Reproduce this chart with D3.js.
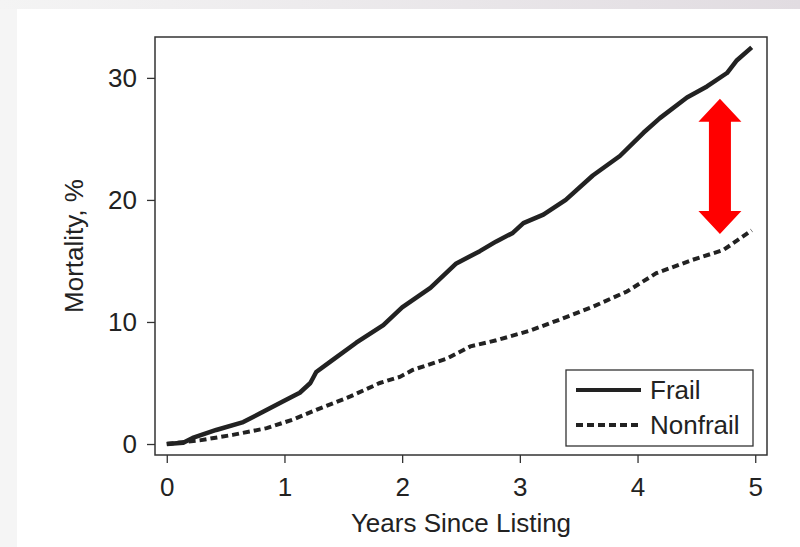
<!DOCTYPE html>
<html>
<head>
<meta charset="utf-8">
<script src="https://cdn.jsdelivr.net/npm/d3@7"></script>
<style>
  html, body { margin: 0; padding: 0; background: #fff; }
  svg { display: block; font-family: 'Liberation Sans', Arial, sans-serif; }
</style>
</head>
<body>
<div id="chart"></div>
<script>
const WIDTH = 800;
const HEIGHT = 547;

// plot box
const box = { left: 155, right: 767, top: 37, bottom: 455 };

// data
const frailYears = [0, 0.14, 0.22, 0.42, 0.65, 0.79, 0.99, 1.13, 1.22, 1.27, 1.39, 1.61, 1.84, 2.0, 2.24, 2.46, 2.66, 2.8, 2.94, 3.03, 3.2, 3.39, 3.62, 3.85, 4.05, 4.19, 4.42, 4.59, 4.76, 4.84, 4.97];
const frailMortality = [0, 0.1, 0.5, 1.15, 1.8, 2.5, 3.5, 4.2, 5.0, 5.9, 6.75, 8.3, 9.75, 11.2, 12.8, 14.8, 15.8, 16.6, 17.3, 18.1, 18.8, 20.0, 22.0, 23.6, 25.5, 26.7, 28.4, 29.3, 30.4, 31.4, 32.5];
const nonfrailYears = [0, 0.28, 0.56, 0.85, 1.07, 1.27, 1.56, 1.81, 1.98, 2.09, 2.38, 2.58, 2.8, 3.09, 3.34, 3.62, 3.91, 4.16, 4.47, 4.73, 4.97];
const nonfrailMortality = [0, 0.3, 0.75, 1.3, 2.0, 2.8, 3.9, 5.0, 5.5, 6.07, 7.0, 8.0, 8.5, 9.3, 10.2, 11.25, 12.5, 14.0, 15.1, 15.9, 17.5];
const xTicks = [0, 1, 2, 3, 4, 5];
const yTicks = [0, 10, 20, 30];
const seriesNames = ['Frail', 'Nonfrail'];
// red double arrow marking the gap
const arrowYear = 4.7;
const arrowFrom = 28.3;
const arrowTo = 17.2;

const svg = d3.select('#chart')
  .append('svg')
  .attr('width', WIDTH)
  .attr('height', HEIGHT);

// page frame (light grey edges)
const defs = svg.append('defs');
defs.append('linearGradient')
  .attr('id', 'top-band')
  .attr('x1', 0).attr('x2', 1).attr('y1', 0).attr('y2', 0)
  .selectAll('stop')
  .data([
    { offset: '0%', color: '#f4f4f4' },
    { offset: '100%', color: '#e1dce1' },
  ])
  .enter()
  .append('stop')
  .attr('offset', (d) => d.offset)
  .attr('stop-color', (d) => d.color);

svg.append('rect').attr('x', 0).attr('y', 0).attr('width', WIDTH).attr('height', 9).attr('fill', 'url(#top-band)');
svg.append('rect').attr('x', 0).attr('y', 9).attr('width', 17).attr('height', HEIGHT - 9).attr('fill', '#f5f5f5');

const x = d3.scaleLinear().domain([-0.1, 5.1]).range([box.left, box.right]);
const y = d3.scaleLinear().domain([-0.9, 33.35]).range([box.bottom, box.top]);

// axes
const xAxis = svg.append('g')
  .attr('transform', `translate(0, ${box.bottom})`)
  .call(d3.axisBottom(x).tickValues(xTicks).tickSize(8).tickPadding(8).tickFormat(d3.format('d')));
const yAxis = svg.append('g')
  .attr('transform', `translate(${box.left}, 0)`)
  .call(d3.axisLeft(y).tickValues(yTicks).tickSize(8).tickPadding(10).tickFormat(d3.format('d')));

[xAxis, yAxis].forEach((g) => {
  g.select('.domain').remove();
  g.selectAll('.tick line').attr('stroke', '#333').attr('stroke-width', 1.3);
  g.selectAll('.tick text').attr('fill', '#222').style('font-size', '26px');
});
xAxis.selectAll('.tick text').attr('dy', '0.95em');

// box
svg.append('rect')
  .attr('x', box.left)
  .attr('y', box.top)
  .attr('width', box.right - box.left)
  .attr('height', box.bottom - box.top)
  .attr('fill', 'none')
  .attr('stroke', '#333')
  .attr('stroke-width', 1.5);

// axis titles
svg.append('text')
  .attr('x', (box.left + box.right) / 2)
  .attr('y', 532)
  .attr('text-anchor', 'middle')
  .attr('fill', '#222')
  .style('font-size', '26px')
  .text('Years Since Listing');

svg.append('text')
  .attr('transform', `translate(83, ${(box.top + box.bottom) / 2}) rotate(-90)`)
  .attr('text-anchor', 'middle')
  .attr('fill', '#222')
  .style('font-size', '26px')
  .text('Mortality, %');

// lines
const line = d3.line().x((d) => x(d[0])).y((d) => y(d[1]));
const frail = frailYears.map((v, i) => [v, frailMortality[i]]);
const nonfrail = nonfrailYears.map((v, i) => [v, nonfrailMortality[i]]);

svg.append('path')
  .datum(nonfrail)
  .attr('fill', 'none')
  .attr('stroke', '#222')
  .attr('stroke-width', 4)
  .attr('stroke-dasharray', '7,4')
  .attr('d', line);

svg.append('path')
  .datum(frail)
  .attr('fill', 'none')
  .attr('stroke', '#222')
  .attr('stroke-width', 4.5)
  .attr('stroke-linejoin', 'round')
  .attr('d', line);

// legend
const legend = svg.append('g').attr('transform', 'translate(566, 370)');
legend.append('rect')
  .attr('width', 187)
  .attr('height', 76)
  .attr('fill', '#fff')
  .attr('stroke', '#333')
  .attr('stroke-width', 1.3);

legend.selectAll('g.item')
  .data(seriesNames)
  .enter()
  .append('g')
  .attr('class', 'item')
  .attr('transform', (d, i) => `translate(0, ${20 + i * 35})`)
  .each(function (d, i) {
    const g = d3.select(this);
    g.append('line')
      .attr('x1', 10).attr('x2', 75)
      .attr('stroke', '#222')
      .attr('stroke-width', 4)
      .attr('stroke-dasharray', i === 0 ? null : '7,4');
    g.append('text')
      .attr('x', 84)
      .attr('dy', '0.35em')
      .attr('fill', '#222')
      .style('font-size', '26px')
      .text(d);
  });

// red arrow
const arrowX = x(arrowYear);
const arrowTop = y(arrowFrom);
const arrowBot = y(arrowTo);
const headW = 21.5, headL = 23, shaftW = 11;
svg.append('path')
  .attr('fill', '#ff0000')
  .attr('d', d3.line()([
    [arrowX, arrowTop],
    [arrowX + headW, arrowTop + headL],
    [arrowX + shaftW, arrowTop + headL],
    [arrowX + shaftW, arrowBot - headL],
    [arrowX + headW, arrowBot - headL],
    [arrowX, arrowBot],
    [arrowX - headW, arrowBot - headL],
    [arrowX - shaftW, arrowBot - headL],
    [arrowX - shaftW, arrowTop + headL],
    [arrowX - headW, arrowTop + headL],
  ]) + 'Z');
</script>
</body>
</html>
